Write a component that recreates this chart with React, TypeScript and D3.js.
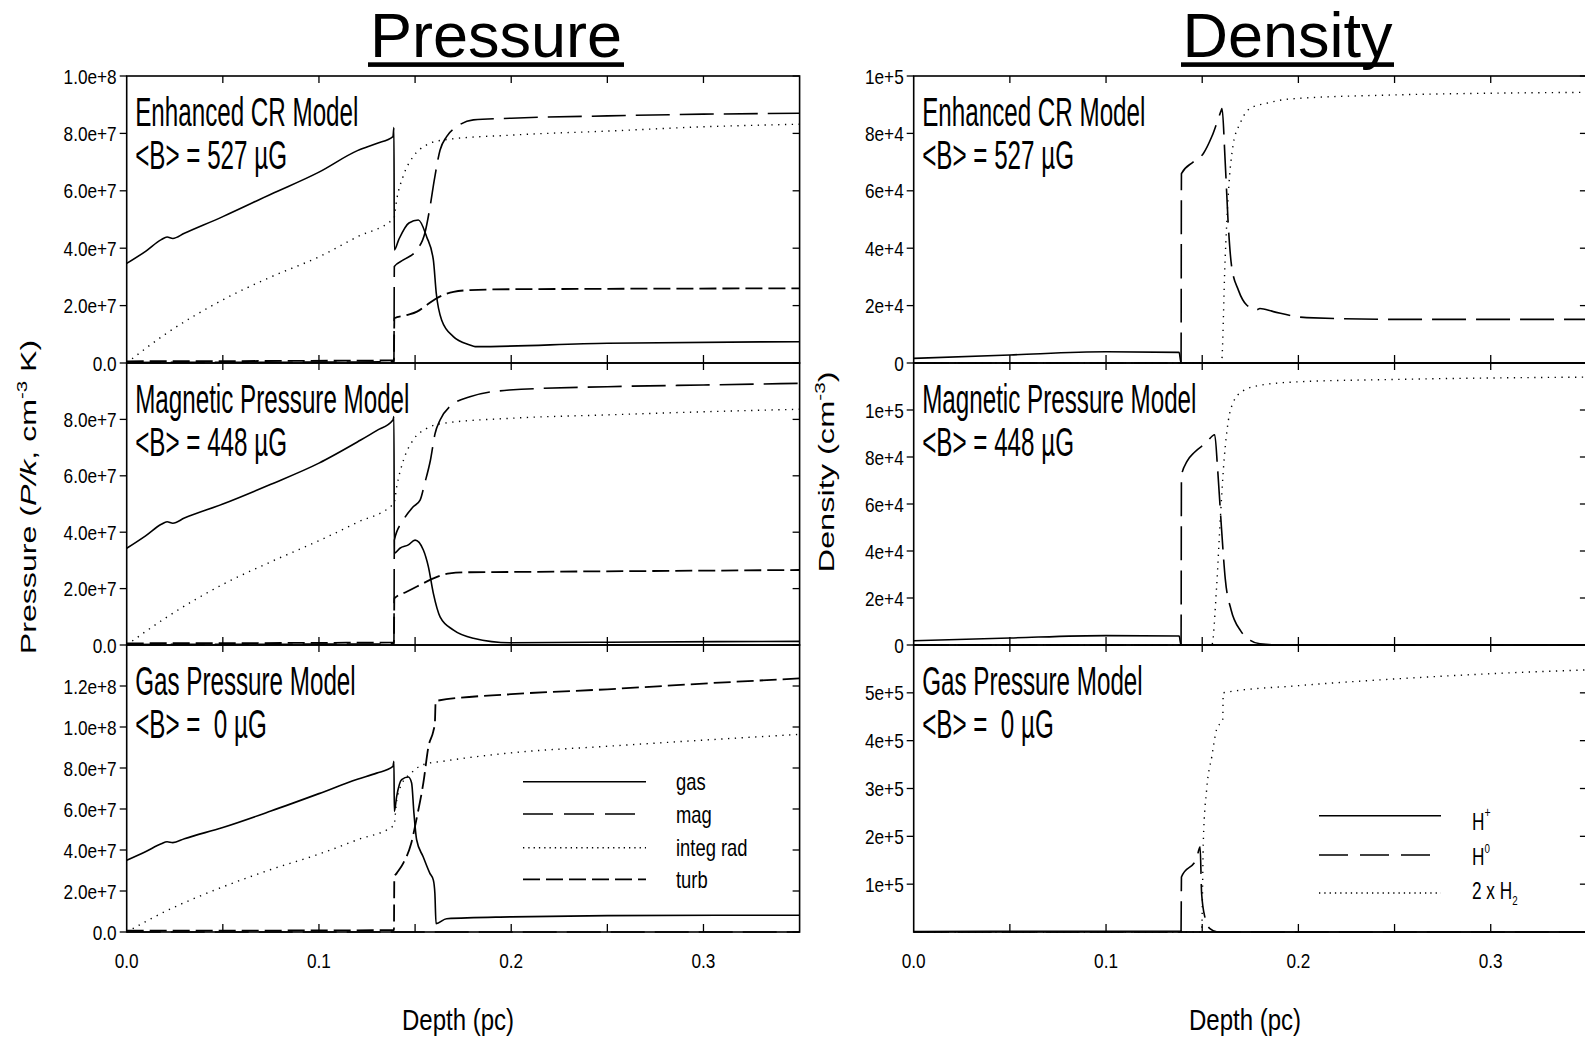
import * as d3 from "d3";

type Pt = [number, number];

const FONT = "'Liberation Sans', Arial, Helvetica, sans-serif";

// depth axis (pc)
const depthTicks = [0.05, 0.1, 0.15, 0.2, 0.25, 0.3];
const depthLabels = [0, 0.1, 0.2, 0.3];

// pressure tick values per panel
const pTicksCR = [0, 2e7, 4e7, 6e7, 8e7, 1e8];
const pTicksMag = [0, 2e7, 4e7, 6e7, 8e7];
const pTicksGas = [0, 2e7, 4e7, 6e7, 8e7, 1e8, 1.2e8];
// density tick values per panel
const nTicksCR = [0, 2e4, 4e4, 6e4, 8e4, 1e5];
const nTicksMag = [0, 2e4, 4e4, 6e4, 8e4, 1e5];
const nTicksGas = [1e5, 2e5, 3e5, 4e5, 5e5];

// ---- Enhanced CR model, pressures (P/k) ----
const gasCR: Pt[] = [
  [0, 34.7e6], [0.01, 39e6], [0.018, 43e6], [0.021, 43.9e6], [0.024, 43.4e6], [0.03, 45.2e6],
  [0.05, 51e6], [0.075, 58.8e6], [0.1, 66.5e6], [0.12, 74e6], [0.13, 76.5e6], [0.1385, 78.9e6],
  [0.139, 82e6], [0.1392, 39.4e6], [0.1415, 43e6], [0.1468, 48.8e6], [0.1517, 49.8e6], [0.156, 44e6],
  [0.1595, 35.9e6], [0.161, 24.4e6], [0.1638, 15e6], [0.1699, 9.2e6], [0.1785, 6.3e6], [0.1812, 5.7e6],
  [0.25, 6.9e6], [0.35, 7.4e6],
];
const magCR: Pt[] = [
  [0, 0.2e6], [0.139, 0.4e6], [0.1392, 33.6e6], [0.1439, 35.9e6], [0.1508, 39.4e6], [0.1551, 45.3e6],
  [0.1578, 54.5e6], [0.16, 63.8e6], [0.163, 74.2e6], [0.1664, 78.9e6], [0.1716, 82.3e6], [0.1803, 84.7e6],
  [0.2, 85.3e6], [0.25, 86.1e6], [0.3, 86.7e6], [0.35, 87e6],
];
const radCR: Pt[] = [
  [0, 0], [0.02, 10e6], [0.05, 22e6], [0.075, 30e6], [0.1, 37e6], [0.12, 44e6], [0.139, 50.5e6],
  [0.1404, 56.8e6], [0.1437, 64.9e6], [0.149, 71.9e6], [0.156, 76e6], [0.1646, 77.7e6], [0.2, 79.4e6],
  [0.25, 80.8e6], [0.3, 82.3e6], [0.35, 83.2e6],
];
const turbCR: Pt[] = [
  [0, 0.6e6], [0.139, 0.9e6], [0.1392, 15.6e6], [0.1456, 16.7e6], [0.151, 17.9e6], [0.156, 20.2e6],
  [0.161, 22.5e6], [0.17, 24.8e6], [0.1786, 25.4e6], [0.2, 25.7e6], [0.35, 26e6],
];

// ---- Magnetic pressure model ----
const gasMag: Pt[] = [
  [0, 34.3e6], [0.01, 38.8e6], [0.018, 42.8e6], [0.021, 43.7e6], [0.024, 43.2e6], [0.03, 45e6],
  [0.05, 50e6], [0.075, 57e6], [0.1, 64.5e6], [0.12, 72e6], [0.13, 76e6], [0.1385, 79.8e6],
  [0.139, 81e6], [0.1392, 32.5e6], [0.1421, 34.3e6], [0.1465, 35.5e6], [0.15, 37.2e6], [0.1543, 33.7e6],
  [0.1569, 27.8e6], [0.1595, 18.3e6], [0.163, 10e6], [0.17, 5.3e6], [0.1803, 2.4e6], [0.1994, 0.8e6],
  [0.25, 1e6], [0.35, 1.3e6],
];
const magMag: Pt[] = [
  [0, 0.2e6], [0.139, 0.4e6], [0.1392, 37.2e6], [0.1439, 44.3e6], [0.149, 49e6], [0.1526, 51.4e6],
  [0.155, 57.3e6], [0.158, 65.6e6], [0.1604, 75e6], [0.163, 79.8e6], [0.168, 84.5e6], [0.1785, 88e6],
  [0.199, 90.4e6], [0.25, 91.6e6], [0.3, 92.2e6], [0.35, 92.8e6],
];
const radMag: Pt[] = [
  [0, 0], [0.02, 9.5e6], [0.05, 21.5e6], [0.075, 29.5e6], [0.1, 37e6], [0.12, 43.5e6], [0.139, 50.2e6],
  [0.1404, 56e6], [0.144, 65.6e6], [0.149, 72.7e6], [0.156, 76.8e6], [0.1646, 78.6e6], [0.2, 80.4e6],
  [0.25, 81.6e6], [0.3, 82.7e6], [0.35, 83.6e6],
];
const turbMag: Pt[] = [
  [0, 0.6e6], [0.139, 0.9e6], [0.1392, 16.5e6], [0.1456, 18.9e6], [0.1526, 21.3e6], [0.1595, 23.6e6],
  [0.168, 25.4e6], [0.1785, 25.8e6], [0.2, 25.9e6], [0.35, 26.6e6],
];

// ---- Gas pressure model ----
const gasGas: Pt[] = [
  [0, 35e6], [0.01, 39.3e6], [0.018, 43e6], [0.021, 44e6], [0.024, 43.6e6], [0.03, 45.5e6],
  [0.05, 51e6], [0.075, 59e6], [0.1, 67.5e6], [0.12, 74.5e6], [0.13, 77.5e6], [0.1385, 80.8e6],
  [0.139, 83.3e6], [0.1392, 58.8e6], [0.1404, 66e6], [0.143, 74.3e6], [0.1465, 75.6e6], [0.1482, 72.7e6],
  [0.1494, 58e6], [0.1508, 45e6], [0.1542, 36.7e6], [0.1577, 28.6e6], [0.1595, 25.3e6], [0.1603, 18.8e6],
  [0.1609, 4.1e6], [0.1664, 6.5e6], [0.2, 7.4e6], [0.25, 8e6], [0.35, 8.2e6],
];
const magGas: Pt[] = [[0, 0], [0.35, 0]];
const radGas: Pt[] = [
  [0, 0], [0.02, 10e6], [0.05, 22e6], [0.075, 30.5e6], [0.1, 38e6], [0.12, 45e6], [0.139, 52e6],
  [0.1404, 64e6], [0.143, 72e6], [0.148, 77.6e6], [0.1543, 81.7e6], [0.1646, 83.3e6], [0.2, 87.4e6],
  [0.25, 90.6e6], [0.3, 93.6e6], [0.35, 96.4e6],
];
const turbGas: Pt[] = [
  [0, 0.6e6], [0.139, 0.9e6], [0.1392, 27e6], [0.1404, 28.6e6], [0.1438, 33.5e6], [0.148, 43.3e6],
  [0.151, 56.3e6], [0.1543, 72.7e6], [0.157, 90.6e6], [0.1595, 98e6], [0.1603, 102e6], [0.1607, 112.7e6],
  [0.2, 116e6], [0.25, 118.4e6], [0.3, 121.2e6], [0.35, 123.7e6],
];

// ---- Densities (cm^-3) ----
const hpCR: Pt[] = [[0, 1.6e3], [0.05, 2.8e3], [0.1, 3.9e3], [0.138, 3.7e3], [0.139, 0], [0.35, 0]];
const h0CR: Pt[] = [
  [0, 0], [0.139, 0], [0.1392, 66e3], [0.1454, 70.1e3], [0.1506, 73e3], [0.155, 78.9e3], [0.16, 88.2e3],
  [0.1603, 88.7e3], [0.1619, 70.7e3], [0.1636, 47.5e3], [0.1653, 33.6e3], [0.1688, 25.4e3], [0.1731, 20.2e3],
  [0.1783, 18.5e3], [0.18, 19e3], [0.187, 17.9e3], [0.2043, 15.8e3], [0.25, 15.2e3], [0.35, 15.2e3],
];
const h2CR: Pt[] = [
  [0, 0], [0.16, 0], [0.1619, 35.9e3], [0.1636, 59.1e3], [0.1662, 76.5e3], [0.1697, 83.5e3], [0.1748, 88.7e3],
  [0.1835, 90.5e3], [0.1957, 92e3], [0.25, 93.4e3], [0.3, 94e3], [0.35, 94.3e3],
];
const hpMag: Pt[] = [[0, 1.8e3], [0.05, 3e3], [0.1, 4e3], [0.138, 3.8e3], [0.139, 0], [0.35, 0]];
const h0Mag: Pt[] = [
  [0, 0], [0.139, 0], [0.1392, 72e3], [0.142, 78e3], [0.146, 82e3], [0.152, 86e3], [0.1565, 89.5e3],
  [0.158, 75e3], [0.16, 50e3], [0.162, 28e3], [0.165, 15e3], [0.17, 6e3], [0.175, 2e3], [0.18, 0.5e3],
  [0.19, 0], [0.35, 0],
];
const h2Mag: Pt[] = [
  [0, 0], [0.155, 0], [0.1575, 25e3], [0.1595, 55e3], [0.1615, 80e3], [0.1635, 95e3], [0.166, 103e3],
  [0.171, 108e3], [0.18, 110.5e3], [0.2, 112e3], [0.25, 113e3], [0.35, 114e3],
];
const hpGas: Pt[] = [[0, 1e3], [0.139, 1.5e3], [0.1395, 0], [0.35, 0]];
const h0Gas: Pt[] = [
  [0, 0], [0.139, 0], [0.1392, 115e3], [0.1471, 154e3], [0.1489, 178e3], [0.1497, 80e3], [0.1514, 31e3],
  [0.154, 7e3], [0.158, 0], [0.35, 0],
];
const h2Gas: Pt[] = [
  [0, 0], [0.1497, 0], [0.1506, 192e3], [0.1523, 298e3], [0.155, 367e3], [0.1575, 424e3], [0.1607, 445e3],
  [0.1609, 500e3], [0.2, 515e3], [0.25, 529e3], [0.3, 540e3], [0.35, 548e3],
];

const pressureKeys = ["gas", "mag", "integ rad", "turb"];
const densityKeys = ["H+", "H0", "2 x H2"];

const STYLE: Record<string, { dash?: string; w: number }> = {
  solid: { w: 1.6 },
  long: { dash: "34,10", w: 1.6 },
  dot: { dash: "1.3,5.5", w: 1.4 },
  short: { dash: "17,6", w: 1.8 },
};

const LEFT = { x0: 126.7, x1: 799.6 };
const RIGHT = { x0: 913.7, x1: 1586.9 };
const ROWS = [
  { top: 76, bottom: 363 },
  { top: 363, bottom: 645 },
  { top: 645, bottom: 932 },
];

function SText({ x, y, size, sx = 1, anchor = "start", children }: any) {
  return (
    <text
      transform={`translate(${x},${y}) scale(${sx},1)`}
      fontSize={size}
      textAnchor={anchor}
      fontFamily={FONT}
      fill="#000"
      style={{ whiteSpace: "pre" }}
    >
      {children}
    </text>
  );
}

const fmtP = (v: number) => (v === 0 ? "0.0" : d3.format(".1e")(v));
const fmtN = (v: number) => (v === 0 ? "0" : d3.format(".0e")(v));

function Panel({ side, row, yMax, yTicks, fmt, lines, label1, label2, showX }: any) {
  const { x0, x1 } = side;
  const { top, bottom } = row;
  const x = d3.scaleLinear().domain([0, 0.35]).range([x0, x1]);
  const y = d3.scaleLinear().domain([0, yMax]).range([bottom, top]);
  const line = d3
    .line<Pt>()
    .x((d) => x(d[0]))
    .y((d) => y(d[1]))
    .curve(d3.curveMonotoneX);
  return (
    <g>
      {lines.map((s: any, i: number) => (
        <path
          key={i}
          d={line(s.data) ?? ""}
          fill="none"
          stroke="#000"
          strokeWidth={STYLE[s.style].w}
          strokeDasharray={STYLE[s.style].dash}
        />
      ))}
      <rect x={x0} y={top} width={x1 - x0} height={bottom - top} fill="none" stroke="#000" strokeWidth={1.6} />
      {depthTicks.map((t) => (
        <g key={t} stroke="#000" strokeWidth={1.3}>
          <line x1={x(t)} x2={x(t)} y1={top} y2={top + 7} />
          <line x1={x(t)} x2={x(t)} y1={bottom - 8} y2={bottom} />
        </g>
      ))}
      {yTicks.map((v: number) => (
        <g key={v}>
          <line x1={x0 - 7} x2={x0} y1={y(v)} y2={y(v)} stroke="#000" strokeWidth={1.3} />
          <line x1={x1 - 7} x2={x1} y1={y(v)} y2={y(v)} stroke="#000" strokeWidth={1.3} />
          <SText x={x0 - 10} y={y(v) + 7.5} size={21} sx={0.82} anchor="end">
            {fmt(v)}
          </SText>
        </g>
      ))}
      {showX &&
        depthLabels.map((t) => (
          <SText key={t} x={x(t)} y={968} size={21} sx={0.82} anchor="middle">
            {d3.format(".1f")(t)}
          </SText>
        ))}
      <SText x={x0 + 8.5} y={top + 49.5} size={41} sx={0.59}>
        {label1}
      </SText>
      <SText x={x0 + 8.5} y={top + 92.5} size={41} sx={0.59}>
        {label2}
      </SText>
    </g>
  );
}

const pStyles = ["solid", "long", "dot", "short"];
const nStyles = ["solid", "long", "dot"];

export default function App() {
  const pressurePanels = [
    { data: [gasCR, magCR, radCR, turbCR], yMax: 1e8, ticks: pTicksCR, l1: "Enhanced CR Model", l2: "<B> = 527 \u00b5G" },
    { data: [gasMag, magMag, radMag, turbMag], yMax: 1e8, ticks: pTicksMag, l1: "Magnetic Pressure Model", l2: "<B> = 448 \u00b5G" },
    { data: [gasGas, magGas, radGas, turbGas], yMax: 1.4e8, ticks: pTicksGas, l1: "Gas Pressure Model", l2: "<B> =  0 \u00b5G" },
  ];
  const densityPanels = [
    { data: [hpCR, h0CR, h2CR], yMax: 1e5, ticks: nTicksCR, l1: "Enhanced CR Model", l2: "<B> = 527 \u00b5G" },
    { data: [hpMag, h0Mag, h2Mag], yMax: 1.2e5, ticks: nTicksMag, l1: "Magnetic Pressure Model", l2: "<B> = 448 \u00b5G" },
    { data: [hpGas, h0Gas, h2Gas], yMax: 6e5, ticks: nTicksGas, l1: "Gas Pressure Model", l2: "<B> =  0 \u00b5G" },
  ];

  const legendP = { x0: 523, x1: 646, tx: 676, ys: [781.7, 814, 847.7, 879.3] };
  const legendN = { x0: 1319, x1: 1441, tx: 1472, ys: [815.7, 855, 893] };

  return (
    <svg
      width={1585}
      height={1037}
      style={{ position: "absolute", left: 0, top: 0, background: "#fff" }}
      fontFamily={FONT}
    >
      <rect width={1585} height={1037} fill="#fff" />
      {/* titles */}
      <SText x={496} y={57} size={63} anchor="middle">Pressure</SText>
      <rect x={368} y={62.3} width={256} height={4.6} fill="#000" />
      <SText x={1287.5} y={57} size={63} anchor="middle">Density</SText>
      <rect x={1181} y={62.3} width={213} height={4.6} fill="#000" />

      {pressurePanels.map((p, i) => (
        <Panel
          key={"p" + i}
          side={LEFT}
          row={ROWS[i]}
          yMax={p.yMax}
          yTicks={p.ticks}
          fmt={fmtP}
          lines={p.data.map((d, j) => ({ data: d, style: pStyles[j] }))}
          label1={p.l1}
          label2={p.l2}
          showX={i === 2}
        />
      ))}
      {densityPanels.map((p, i) => (
        <Panel
          key={"n" + i}
          side={RIGHT}
          row={ROWS[i]}
          yMax={p.yMax}
          yTicks={p.ticks}
          fmt={fmtN}
          lines={p.data.map((d, j) => ({ data: d, style: nStyles[j] }))}
          label1={p.l1}
          label2={p.l2}
          showX={i === 2}
        />
      ))}

      {/* pressure legend */}
      {pressureKeys.map((k, i) => (
        <g key={k}>
          <line
            x1={legendP.x0}
            x2={i === 1 ? legendP.x1 - 9 : legendP.x1}
            y1={legendP.ys[i]}
            y2={legendP.ys[i]}
            stroke="#000"
            strokeWidth={STYLE[pStyles[i]].w}
            strokeDasharray={i === 1 ? "30,11" : i === 2 ? "1.3,4" : STYLE[pStyles[i]].dash}
          />
          <SText x={legendP.tx} y={legendP.ys[i] + 8.5} size={23} sx={0.8}>
            {k}
          </SText>
        </g>
      ))}

      {/* density legend */}
      {densityKeys.map((k, i) => (
        <line
          key={k}
          x1={legendN.x0}
          x2={i === 1 ? legendN.x1 - 10 : legendN.x1}
          y1={legendN.ys[i]}
          y2={legendN.ys[i]}
          stroke="#000"
          strokeWidth={STYLE[nStyles[i]].w}
          strokeDasharray={i === 1 ? "29,12" : i === 2 ? "1.3,4" : STYLE[nStyles[i]].dash}
        />
      ))}
      <SText x={legendN.tx} y={829.5} size={23} sx={0.75}>
        H<tspan dy={-13} fontSize={14}>+</tspan>
      </SText>
      <SText x={legendN.tx} y={864.5} size={23} sx={0.75}>
        H<tspan dy={-12} fontSize={13}>0</tspan>
      </SText>
      <SText x={legendN.tx} y={898.5} size={23} sx={0.75}>
        2 x H<tspan dy={6} fontSize={13}>2</tspan>
      </SText>

      {/* axis titles */}
      <SText x={458} y={1030} size={30} sx={0.8} anchor="middle">Depth (pc)</SText>
      <SText x={1245} y={1030} size={30} sx={0.8} anchor="middle">Depth (pc)</SText>
      <text
        transform="translate(36,497) rotate(-90) scale(1.46,1)"
        fontSize={22}
        textAnchor="middle"
        fontFamily={FONT}
      >
        Pressure (<tspan fontStyle="italic">P/k</tspan>, cm<tspan dy={-9} fontSize={14}>-3</tspan>
        <tspan dy={9}> K)</tspan>
      </text>
      <text
        transform="translate(834,472) rotate(-90) scale(1.48,1)"
        fontSize={22}
        textAnchor="middle"
        fontFamily={FONT}
      >
        Density (cm<tspan dy={-9} fontSize={14}>-3</tspan>
        <tspan dy={9}>)</tspan>
      </text>
    </svg>
  );
}
